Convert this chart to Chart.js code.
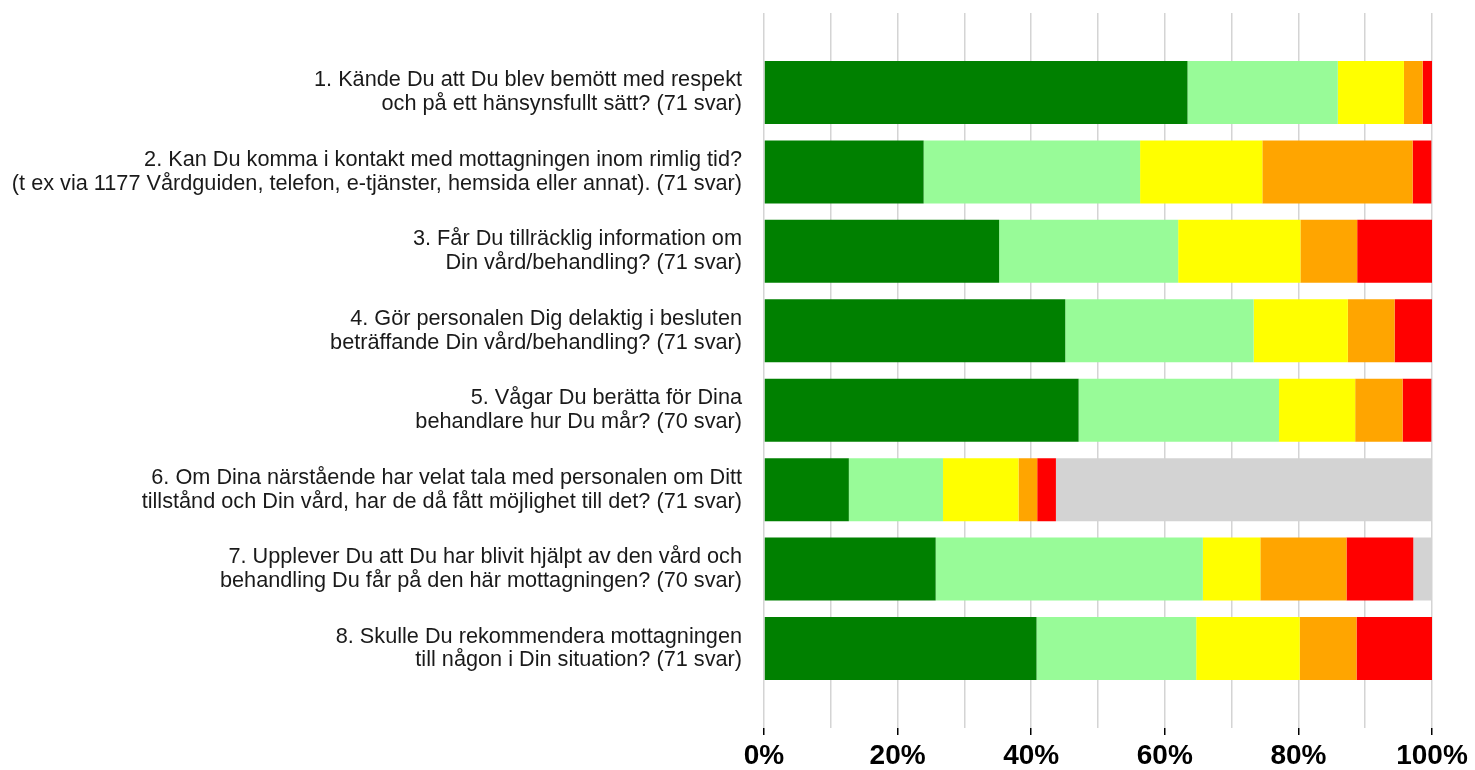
<!DOCTYPE html>
<html>
<head>
<meta charset="utf-8">
<script src="https://cdn.jsdelivr.net/npm/chart.js@4"></script>
<style>
  html, body { margin: 0; padding: 0; background: #fff; }
  #wrap { width: 1475px; height: 770px; }
</style>
</head>
<body>
<div id="wrap"><canvas id="chart"></canvas></div>
<script>
const questions = [
    ['1. Kände Du att Du blev bemött med respekt', 'och på ett hänsynsfullt sätt? (71 svar)'],
    ['2. Kan Du komma i kontakt med mottagningen inom rimlig tid?', '(t ex via 1177 Vårdguiden, telefon, e-tjänster, hemsida eller annat). (71 svar)'],
    ['3. Får Du tillräcklig information om', 'Din vård/behandling? (71 svar)'],
    ['4. Gör personalen Dig delaktig i besluten', 'beträffande Din vård/behandling? (71 svar)'],
    ['5. Vågar Du berätta för Dina', 'behandlare hur Du mår? (70 svar)'],
    ['6. Om Dina närstående har velat tala med personalen om Ditt', 'tillstånd och Din vård, har de då fått möjlighet till det? (71 svar)'],
    ['7. Upplever Du att Du har blivit hjälpt av den vård och', 'behandling Du får på den här mottagningen? (70 svar)'],
    ['8. Skulle Du rekommendera mottagningen', 'till någon i Din situation? (71 svar)']
];

// andel svar i procent per fråga
const darkGreen  = [63.4, 23.9, 35.2, 45.1, 47.1, 12.7, 25.7, 40.8];
const lightGreen = [22.5, 32.4, 26.8, 28.2, 30.0, 14.1, 40.0, 23.9];
const yellow     = [9.9, 18.3, 18.3, 14.1, 11.4, 11.3, 8.6, 15.5];
const orange     = [2.8, 22.5, 8.5, 7.0, 7.1, 2.8, 12.9, 8.5];
const red        = [1.4, 2.8, 11.3, 5.6, 4.3, 2.8, 10.0, 11.3];
const grey       = [0, 0, 0, 0, 0, 56.3, 2.9, 0];

const xTicks = [0, 10, 20, 30, 40, 50, 60, 70, 80, 90, 100];

const series = [
    { name: 'Mycket bra', values: darkGreen, color: '#008000' },
    { name: 'Bra', values: lightGreen, color: '#98FB98' },
    { name: 'Varken eller', values: yellow, color: '#FFFF00' },
    { name: 'Dåligt', values: orange, color: '#FFA500' },
    { name: 'Mycket dåligt', values: red, color: '#FF0000' },
    { name: 'Ej aktuellt', values: grey, color: '#D3D3D3' }
];

const datasets = series.map(s => ({
    label: s.name,
    data: s.values.map((v, i) => ({ x: v, y: i + 1 })),
    backgroundColor: s.color,
    borderWidth: 0,
    barPercentage: 0.793,
    categoryPercentage: 1
}));

new Chart(document.getElementById('chart'), {
    type: 'bar',
    data: { datasets: datasets },
    options: {
        indexAxis: 'y',
        responsive: true, maintainAspectRatio: false,
        animation: false,
        layout: { padding: { top: 13, right: 43, bottom: 0, left: 0 } },
        plugins: { legend: { display: false }, tooltip: { enabled: false } },
        scales: {
            x: {
                type: 'linear', stacked: true, min: 0, max: 100,
                afterBuildTicks: axis => { axis.ticks = xTicks.map(v => ({ value: v })); },
                afterFit: axis => { axis.height = 42; axis.paddingLeft = 0; axis.paddingRight = 0; },
                border: { display: false },
                grid: {
                    color: '#d4d4d4', lineWidth: 1.5,
                    tickLength: 7, tickWidth: 1.5,
                    tickColor: ctx => (ctx.tick && ctx.tick.value % 20 === 0) ? '#000' : 'rgba(0,0,0,0)'
                },
                ticks: {
                    autoSkip: false, maxRotation: 0, padding: 4,
                    color: '#000',
                    font: { family: '"Liberation Sans", Arial, sans-serif', size: 28, weight: 'bold' },
                    callback: v => v % 20 === 0 ? v + '%' : ''
                }
            },
            y: {
                type: 'linear', stacked: true, reverse: true, min: 0, max: 9,
                offset: false,
                afterBuildTicks: axis => { axis.ticks = questions.map((q, i) => ({ value: i + 1 })); },
                afterFit: axis => { axis.width = 764; axis.paddingTop = 0; axis.paddingBottom = 0; },
                border: { display: false },
                grid: { display: false, drawTicks: false, offset: false },
                ticks: {
                    padding: 22, color: '#1a1a1a',
                    font: { family: '"Liberation Sans", Arial, sans-serif', size: 21.7, lineHeight: 1.1 },
                    callback: v => questions[v - 1] || ''
                }
            }
        }
    }
});
</script>
</body>
</html>
